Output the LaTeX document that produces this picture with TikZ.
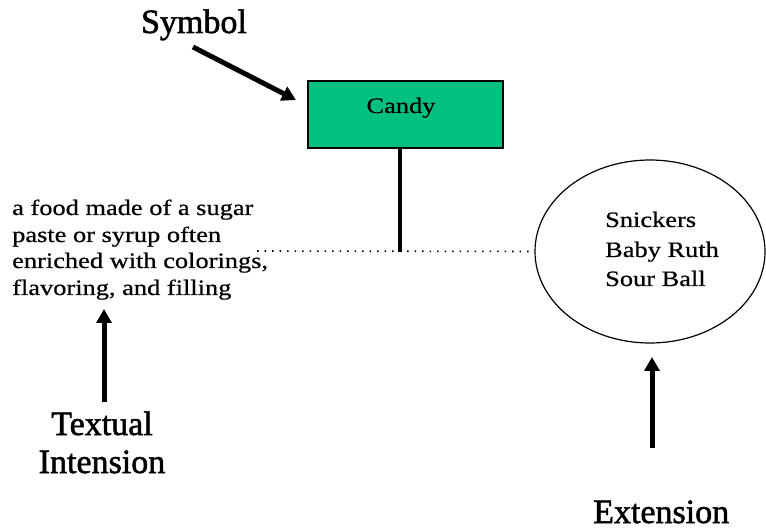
\documentclass[tikz,border=0pt]{standalone}
\usepackage{fontspec}
\setmainfont{Liberation Serif}
\newfontfamily\bodyf[FakeStretch=1.2,FakeBold=0.6]{Liberation Serif}
\newfontfamily\headf[FakeBold=1.6]{Liberation Serif}
\usetikzlibrary{arrows.meta,shapes.geometric}
\definecolor{candygreen}{RGB}{0,192,128}
\tikzset{
  small/.style={font=\bodyf\fontsize{22}{26}\selectfont, inner sep=0pt},
  head/.style={font=\headf\fontsize{34}{38}\selectfont, inner sep=0pt},
  bigarrow/.style={line width=5pt, -{Triangle[width=15pt,length=14pt]}},
  dotline/.style={line width=1.6pt, dash pattern=on 1.6pt off 5.9pt},
}
\begin{document}
\begin{tikzpicture}[x=1pt,y=-1pt]
\useasboundingbox (0,0) rectangle (766,529);
% symbol box
\node[draw=black, line width=1.5pt, fill=candygreen, minimum width=195pt, minimum height=67pt, inner sep=0pt] (candy) at (405.5,114.5) {};
\node[small, anchor=base] (candyt) at (401,113) {Candy};
% extension ellipse
\node[ellipse, draw=black, line width=1.2pt, minimum width=230pt, minimum height=183pt, inner sep=0pt] (ext) at (650,251.5) {};
\node[small, anchor=base west] (e1) at (605,227) {Snickers};
\node[small, anchor=base west] (e2) at (605,257) {Baby Ruth};
\node[small, anchor=base west] (e3) at (605,286) {Sour Ball};
% intension text
\node[small, anchor=base west] (t1) at (12,215) {a food made of a sugar};
\node[small, anchor=base west] (t2) at (12,242) {paste or syrup often};
\node[small, anchor=base west] (t3) at (12,268) {enriched with colorings,};
\node[small, anchor=base west] (t4) at (12,295) {flavoring, and filling};
% headings
\node[head, anchor=base] (sym) at (194,33) {Symbol};
\node[head, anchor=base] (tx1) at (102,435) {Textual};
\node[head, anchor=base] (tx2) at (102,473) {Intension};
\node[head, anchor=base west] (extl) at (593,523) {Extension};
% connectors
\coordinate (junc) at (400,252);
\coordinate (dotL) at (257,251);
\draw[line width=3.5pt] (candy.south -| junc) -- (junc);
\draw[dotline] (dotL) -- (ext.west);
\coordinate (symS) at (193,47);
\coordinate (symE) at (296,100);
\draw[bigarrow] (symS) -- (symE);
\coordinate (tiS) at (104,402);
\coordinate (tiE) at (104,309);
\draw[bigarrow] (tiS) -- (tiE);
\coordinate (exS) at (652,448);
\coordinate (exE) at (652,357);
\draw[bigarrow] (exS) -- (exE);
\end{tikzpicture}
\end{document}
